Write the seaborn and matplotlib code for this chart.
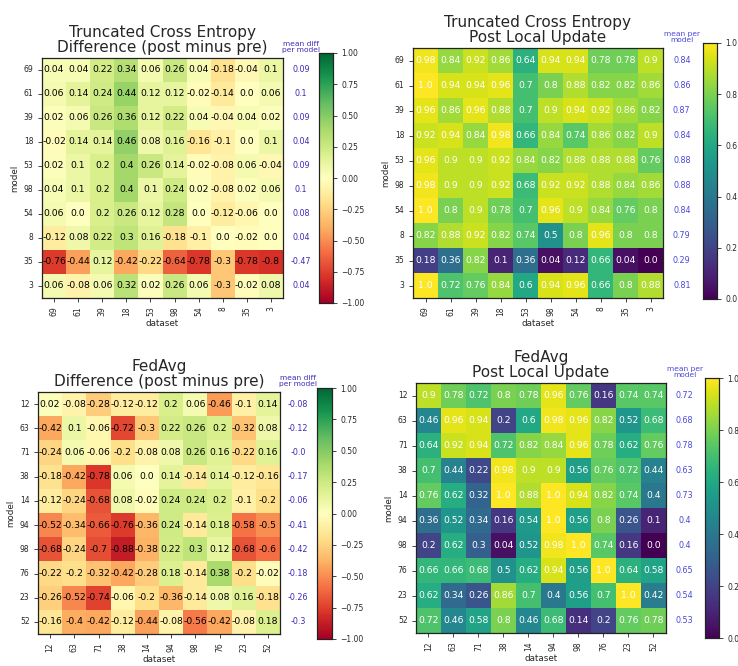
import numpy as np
import matplotlib
matplotlib.use("Agg")
import matplotlib.pyplot as plt
import pandas as pd
import seaborn as sns

# --- data ---
tce_ids = ["69", "61", "39", "18", "53", "98", "54", "8", "35", "3"]
fed_ids = ["12", "63", "71", "38", "14", "94", "98", "76", "23", "52"]

tce_diff = [
    [0.04, 0.04, 0.22, 0.34, 0.06, 0.26, 0.04, -0.18, -0.04, 0.1],
    [0.06, 0.14, 0.24, 0.44, 0.12, 0.12, -0.02, -0.14, 0.0, 0.06],
    [0.02, 0.06, 0.26, 0.36, 0.12, 0.22, 0.04, -0.04, 0.04, 0.02],
    [-0.02, 0.14, 0.14, 0.46, 0.08, 0.16, -0.16, -0.1, 0.0, 0.1],
    [0.02, 0.1, 0.2, 0.4, 0.26, 0.14, -0.02, -0.08, 0.06, -0.04],
    [0.04, 0.1, 0.2, 0.4, 0.1, 0.24, 0.02, -0.08, 0.02, 0.06],
    [0.06, 0.0, 0.2, 0.26, 0.12, 0.28, 0.0, -0.12, -0.06, 0.0],
    [-0.12, 0.08, 0.22, 0.3, 0.16, -0.18, -0.1, 0.0, -0.02, 0.0],
    [-0.76, -0.44, 0.12, -0.42, -0.22, -0.64, -0.78, -0.3, -0.78, -0.8],
    [0.06, -0.08, 0.06, 0.32, 0.02, 0.26, 0.06, -0.3, -0.02, 0.08],
]
tce_diff_mean = [0.09, 0.1, 0.09, 0.04, 0.09, 0.1, 0.08, 0.04, -0.47, 0.04]

tce_post = [
    [0.98, 0.84, 0.92, 0.86, 0.64, 0.94, 0.94, 0.78, 0.78, 0.9],
    [1.0, 0.94, 0.94, 0.96, 0.7, 0.8, 0.88, 0.82, 0.82, 0.86],
    [0.96, 0.86, 0.96, 0.88, 0.7, 0.9, 0.94, 0.92, 0.86, 0.82],
    [0.92, 0.94, 0.84, 0.98, 0.66, 0.84, 0.74, 0.86, 0.82, 0.9],
    [0.96, 0.9, 0.9, 0.92, 0.84, 0.82, 0.88, 0.88, 0.88, 0.76],
    [0.98, 0.9, 0.9, 0.92, 0.68, 0.92, 0.92, 0.88, 0.84, 0.86],
    [1.0, 0.8, 0.9, 0.78, 0.7, 0.96, 0.9, 0.84, 0.76, 0.8],
    [0.82, 0.88, 0.92, 0.82, 0.74, 0.5, 0.8, 0.96, 0.8, 0.8],
    [0.18, 0.36, 0.82, 0.1, 0.36, 0.04, 0.12, 0.66, 0.04, 0.0],
    [1.0, 0.72, 0.76, 0.84, 0.6, 0.94, 0.96, 0.66, 0.8, 0.88],
]
tce_post_mean = [0.84, 0.86, 0.87, 0.84, 0.88, 0.88, 0.84, 0.79, 0.29, 0.81]

fed_diff = [
    [0.02, -0.08, -0.28, -0.12, -0.12, 0.2, 0.06, -0.46, -0.1, 0.14],
    [-0.42, 0.1, -0.06, -0.72, -0.3, 0.22, 0.26, 0.2, -0.32, 0.08],
    [-0.24, 0.06, -0.06, -0.2, -0.08, 0.08, 0.26, 0.16, -0.22, 0.16],
    [-0.18, -0.42, -0.78, 0.06, 0.0, 0.14, -0.14, 0.14, -0.12, -0.16],
    [-0.12, -0.24, -0.68, 0.08, -0.02, 0.24, 0.24, 0.2, -0.1, -0.2],
    [-0.52, -0.34, -0.66, -0.76, -0.36, 0.24, -0.14, 0.18, -0.58, -0.5],
    [-0.68, -0.24, -0.7, -0.88, -0.38, 0.22, 0.3, 0.12, -0.68, -0.6],
    [-0.22, -0.2, -0.32, -0.42, -0.28, 0.18, -0.14, 0.38, -0.2, -0.02],
    [-0.26, -0.52, -0.74, -0.06, -0.2, -0.36, -0.14, 0.08, 0.16, -0.18],
    [-0.16, -0.4, -0.42, -0.12, -0.44, -0.08, -0.56, -0.42, -0.08, 0.18],
]
fed_diff_mean = [-0.08, -0.12, -0.0, -0.17, -0.06, -0.41, -0.42, -0.18, -0.26, -0.3]

fed_post = [
    [0.9, 0.78, 0.72, 0.8, 0.78, 0.96, 0.76, 0.16, 0.74, 0.74],
    [0.46, 0.96, 0.94, 0.2, 0.6, 0.98, 0.96, 0.82, 0.52, 0.68],
    [0.64, 0.92, 0.94, 0.72, 0.82, 0.84, 0.96, 0.78, 0.62, 0.76],
    [0.7, 0.44, 0.22, 0.98, 0.9, 0.9, 0.56, 0.76, 0.72, 0.44],
    [0.76, 0.62, 0.32, 1.0, 0.88, 1.0, 0.94, 0.82, 0.74, 0.4],
    [0.36, 0.52, 0.34, 0.16, 0.54, 1.0, 0.56, 0.8, 0.26, 0.1],
    [0.2, 0.62, 0.3, 0.04, 0.52, 0.98, 1.0, 0.74, 0.16, 0.0],
    [0.66, 0.66, 0.68, 0.5, 0.62, 0.94, 0.56, 1.0, 0.64, 0.58],
    [0.62, 0.34, 0.26, 0.86, 0.7, 0.4, 0.56, 0.7, 1.0, 0.42],
    [0.72, 0.46, 0.58, 0.8, 0.46, 0.68, 0.14, 0.2, 0.76, 0.78],
]
fed_post_mean = [0.72, 0.68, 0.78, 0.63, 0.73, 0.4, 0.4, 0.65, 0.54, 0.53]

sns.set_style("ticks")
plt.rcParams['font.family'] = ['DejaVu Sans']

fig = plt.figure(figsize=(7.38, 6.66), dpi=100)
W, H = 738, 666


def px_axes(x0, y0, x1, y1):
    return fig.add_axes([x0 / W, (H - y1) / H, (x1 - x0) / W, (y1 - y0) / H])


def draw(heat_box, cbar_box, values, means, ids, title, diff):
    ax = px_axes(*heat_box)
    cax = px_axes(*cbar_box)
    df = pd.DataFrame(values, index=ids, columns=ids)
    labels = np.array([[str(v) for v in row] for row in values])
    if diff:
        cmap, vmin, vmax, tcol = "RdYlGn", -1, 1, "black"
        mcol, head = "#3c2eb4", "mean diff\nper model"
    else:
        cmap, vmin, vmax, tcol = "viridis", 0, 1, "white"
        mcol, head = "#4848dc", "mean per\nmodel"
    sns.heatmap(df, ax=ax, cbar_ax=cax, cmap=cmap, vmin=vmin, vmax=vmax,
                annot=labels, fmt="", annot_kws={"color": tcol, "fontsize": 6.7})
    for s in ax.spines.values():
        s.set_visible(True)
        s.set_color("#222222")
        s.set_linewidth(0.9)
    ax.tick_params(labelsize=5.5, length=2.6, width=0.6)
    ax.set_xticklabels(ids, rotation=90)
    ax.set_yticklabels(ids, rotation=0)
    ax.set_xlabel("dataset", fontsize=6.3, labelpad=2)
    ax.set_ylabel("model", fontsize=6.3, labelpad=3)
    ax.set_title(title, fontsize=11, pad=4, linespacing=1.0)

    for i, m in enumerate(means):
        ax.text(10.75, i + 0.5, str(m), ha="center", va="center",
                fontsize=5.8, color=mcol, clip_on=False)
    ax.text(10.75, -0.2, head, ha="center", va="bottom", fontsize=5.4,
            color=mcol, linespacing=1.0, clip_on=False)

    cax.tick_params(labelsize=5.5, length=2.6, width=0.6)
    if diff:
        cax.set_yticks([-1, -0.75, -0.5, -0.25, 0, 0.25, 0.5, 0.75, 1])
        cax.set_yticklabels([f"{t:.2f}".replace("-", "\u2212") for t in
                             [-1, -0.75, -0.5, -0.25, 0, 0.25, 0.5, 0.75, 1]])
    else:
        cax.set_yticks([0, 0.2, 0.4, 0.6, 0.8, 1.0])
    for s in cax.spines.values():
        s.set_visible(True)
        s.set_color("#222222")
        s.set_linewidth(0.8)


draw((42, 58, 283, 298), (319, 53, 333, 303), tce_diff, tce_diff_mean, tce_ids,
     "Truncated Cross Entropy\nDifference (post minus pre)", True)
draw((413, 48, 663, 298), (703, 43, 717, 299), tce_post, tce_post_mean, tce_ids,
     "Truncated Cross Entropy\nPost Local Update", False)
draw((38, 392, 280, 634), (317, 388, 332, 639), fed_diff, fed_diff_mean, fed_ids,
     "FedAvg\nDifference (post minus pre)", True)
draw((416, 383, 666, 633), (705, 378, 719, 638), fed_post, fed_post_mean, fed_ids,
     "FedAvg\nPost Local Update", False)

fig.savefig("out.png", dpi=100)
